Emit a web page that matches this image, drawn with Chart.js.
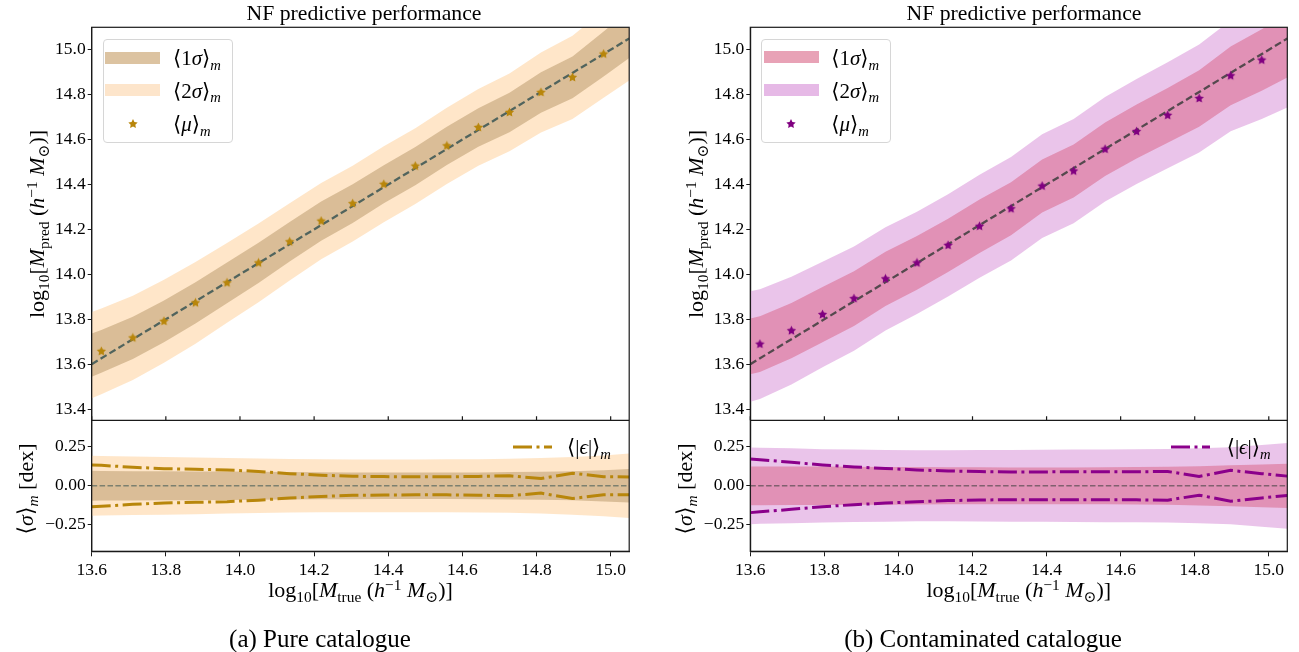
<!DOCTYPE html>
<html>
<head>
<meta charset="utf-8">
<script src="https://cdn.jsdelivr.net/npm/chart.js@4.4.1/dist/chart.umd.min.js"></script>
<style>
  body { margin: 0; width: 1299px; height: 652px; overflow: hidden; position: relative; background: #fff;
         font-family: 'Liberation Serif', 'DejaVu Serif', serif; color: #000; }
  canvas.panel { position: absolute; top: 0; }
  .t { position: absolute; white-space: nowrap; line-height: 1; transform: translate(-50%, -50%); }
  .rot { transform: translate(-50%, -50%) rotate(-90deg); }
  sub, sup { font-size: 70%; line-height: 0; position: relative; vertical-align: baseline; }
  sub { top: 0.32em; }
  sup { top: -0.45em; }
  .leg { position: absolute; box-sizing: border-box; border: 1px solid #d6d6d6; border-radius: 4px;
         background: rgba(255,255,255,0.8); width: 130px; height: 104px; }
  .patch { position: absolute; width: 55px; height: 12px; }
  .lt { position: absolute; font-size: 21px; line-height: 1; transform: translateY(-50%); white-space: nowrap; }
</style>
</head>
<body>
<canvas id="chartA" class="panel" style="left:0px" width="645" height="600"></canvas>
<canvas id="chartB" class="panel" style="left:650px" width="649" height="600"></canvas>

<!-- titles -->
<div class="t" style="left:364px; top:14px; font-size:21.7px">NF predictive performance</div>
<div class="t" style="left:1024px; top:14px; font-size:21.7px">NF predictive performance</div>

<!-- axis labels -->
<div class="t" style="left:360.5px; top:590px; font-size:22px">log<sub>10</sub>[<i>M</i><sub>true</sub> (<i>h</i><sup>−1</sup> <i>M</i><sub>⊙</sub>)]</div>
<div class="t" style="left:1018.8px; top:590px; font-size:22px">log<sub>10</sub>[<i>M</i><sub>true</sub> (<i>h</i><sup>−1</sup> <i>M</i><sub>⊙</sub>)]</div>
<div class="t rot" style="left:37px; top:224px; font-size:22px">log<sub>10</sub>[<i>M</i><sub>pred</sub> (<i>h</i><sup>−1</sup> <i>M</i><sub>⊙</sub>)]</div>
<div class="t rot" style="left:696px; top:224px; font-size:22px">log<sub>10</sub>[<i>M</i><sub>pred</sub> (<i>h</i><sup>−1</sup> <i>M</i><sub>⊙</sub>)]</div>
<div class="t rot" style="left:26px; top:489px; font-size:22px">⟨<i>σ</i>⟩<sub><i>m</i></sub> [dex]</div>
<div class="t rot" style="left:685px; top:489px; font-size:22px">⟨<i>σ</i>⟩<sub><i>m</i></sub> [dex]</div>

<!-- captions -->
<div class="t" style="left:320px; top:638px; font-size:25px">(a) Pure catalogue</div>
<div class="t" style="left:983px; top:638px; font-size:25px">(b) Contaminated catalogue</div>

<!-- legends, upper panels -->
<div class="leg" style="left:102.7px; top:39px"></div>
<div class="patch" style="left:105px; top:51.7px; background:#dcc3a1"></div>
<div class="patch" style="left:105px; top:84px; background:#fde5cb"></div>
<canvas id="legStarA" style="position:absolute; left:127.7px; top:119.3px" width="10" height="10"></canvas>
<div class="lt" style="left:173px; top:58px">⟨1<i>σ</i>⟩<sub><i>m</i></sub></div>
<div class="lt" style="left:173px; top:90.5px">⟨2<i>σ</i>⟩<sub><i>m</i></sub></div>
<div class="lt" style="left:173px; top:124px">⟨<i>μ</i>⟩<sub><i>m</i></sub></div>

<div class="leg" style="left:761.3px; top:38.7px"></div>
<div class="patch" style="left:764px; top:51.3px; background:#e8a2b6"></div>
<div class="patch" style="left:764px; top:84px; background:#e6b9e6"></div>
<canvas id="legStarB" style="position:absolute; left:786.3px; top:119.3px" width="10" height="10"></canvas>
<div class="lt" style="left:831.3px; top:58px">⟨1<i>σ</i>⟩<sub><i>m</i></sub></div>
<div class="lt" style="left:831.3px; top:90.5px">⟨2<i>σ</i>⟩<sub><i>m</i></sub></div>
<div class="lt" style="left:831.3px; top:124px">⟨<i>μ</i>⟩<sub><i>m</i></sub></div>

<!-- legends, residual panels -->
<svg style="position:absolute; left:512.7px; top:442px" width="40" height="10"><line x1="0" y1="5" x2="39" y2="5" stroke="#b8860b" stroke-width="3" stroke-dasharray="19 4.5 3 4.5"/></svg>
<div class="lt" style="left:567px; top:447px">⟨|<i>ϵ</i>|⟩<sub><i>m</i></sub></div>
<svg style="position:absolute; left:1171px; top:442px" width="40" height="10"><line x1="0" y1="5" x2="39" y2="5" stroke="#8b008b" stroke-width="3" stroke-dasharray="19 4.5 3 4.5"/></svg>
<div class="lt" style="left:1226.7px; top:447px">⟨|<i>ϵ</i>|⟩<sub><i>m</i></sub></div>

<script>
// mass bins (first and last entries sit on the plot edges)
const massGrid = [13.600, 13.626, 13.711, 13.795, 13.880, 13.965, 14.050, 14.134, 14.219, 14.304,
                  14.388, 14.473, 14.558, 14.643, 14.727, 14.812, 14.897, 14.981, 15.050];

// (a) pure catalogue
const muPure   = [13.640, 13.657, 13.717, 13.791, 13.873, 13.962, 14.051, 14.145, 14.237, 14.315,
                  14.401, 14.482, 14.572, 14.654, 14.721, 14.810, 14.877, 14.981, 15.070];
const sig1Pure = [0.096, 0.095, 0.094, 0.093, 0.092, 0.091, 0.090, 0.088, 0.087, 0.086,
                  0.085, 0.085, 0.085, 0.086, 0.088, 0.090, 0.093, 0.100, 0.107];
const sig2Pure = [0.192, 0.191, 0.188, 0.185, 0.182, 0.178, 0.175, 0.172, 0.170, 0.169,
                  0.169, 0.169, 0.170, 0.171, 0.173, 0.178, 0.185, 0.195, 0.207];
const epsPure  = [0.134, 0.131, 0.119, 0.110, 0.106, 0.102, 0.092, 0.078, 0.068, 0.061,
                  0.059, 0.058, 0.058, 0.060, 0.064, 0.047, 0.081, 0.058, 0.057];

// (b) contaminated catalogue
const muCont   = [13.679, 13.689, 13.749, 13.821, 13.892, 13.980, 14.051, 14.129, 14.214, 14.292,
                  14.393, 14.460, 14.557, 14.636, 14.708, 14.783, 14.884, 14.954, 15.018];
const sig1Cont = [0.124, 0.124, 0.123, 0.123, 0.122, 0.121, 0.120, 0.119, 0.119, 0.118,
                  0.118, 0.118, 0.119, 0.120, 0.122, 0.126, 0.131, 0.137, 0.142];
const sig2Cont = [0.246, 0.244, 0.240, 0.235, 0.232, 0.230, 0.228, 0.228, 0.229, 0.230,
                  0.231, 0.232, 0.233, 0.234, 0.236, 0.240, 0.247, 0.262, 0.275];
const epsCont  = [0.172, 0.167, 0.151, 0.134, 0.121, 0.111, 0.102, 0.095, 0.091, 0.089,
                  0.089, 0.090, 0.090, 0.090, 0.092, 0.060, 0.099, 0.078, 0.062];

// axis limits
const xLimits = [13.6, 15.05];
const yMainLimits = [13.35, 15.1];
const yResLimits = [-0.42, 0.42];

const FONT = { family: "'Liberation Serif', 'DejaVu Serif', serif", size: 17.5 };

function starImage(color, r) {
  const c = document.createElement('canvas');
  const s = Math.ceil(r * 2) + 1;
  c.width = c.height = s;
  drawStar(c.getContext('2d'), s / 2, s / 2, r, color);
  return c;
}
function drawStar(g, cx, cy, r, color) {
  g.fillStyle = color;
  g.beginPath();
  for (let i = 0; i < 10; i++) {
    const rad = i % 2 ? r * 0.5 : r;
    const a = -Math.PI / 2 + i * Math.PI / 5;
    g.lineTo(cx + rad * Math.cos(a), cy + rad * Math.sin(a));
  }
  g.closePath();
  g.fill();
}

const pts = (xs, ys) => xs.map((x, i) => ({ x, y: ys[i] }));
const shift = (base, d, sign) => base.map((v, i) => v + sign * d[i]);
const zeros = massGrid.map(() => 0);

// cadre complet + petits ticks vers l'intérieur au-dessus de la séparation
const framePlugin = {
  id: 'frame',
  afterDatasetsDraw(chart) {
    const { ctx, chartArea: a, scales } = chart;
    const sep = scales.yMain.bottom;
    ctx.save();
    ctx.strokeStyle = '#1a1a1a';
    ctx.lineWidth = 1.2;
    ctx.strokeRect(a.left, a.top, a.right - a.left, a.bottom - a.top);
    ctx.beginPath();
    ctx.moveTo(a.left, sep); ctx.lineTo(a.right, sep);
    scales.x.ticks.forEach(t => {
      const px = scales.x.getPixelForValue(t.value);
      ctx.moveTo(px, sep); ctx.lineTo(px, sep - 4);
    });
    ctx.stroke();
    ctx.restore();
  }
};

function makePanel(id, axisWidth, rightPad, mu, s1, s2, eps, c) {
  const band = (lo, hi, color, axis, order) => ([
    { data: pts(massGrid, hi), yAxisID: axis, fill: '+1', backgroundColor: color, borderWidth: 0, pointRadius: 0, order },
    { data: pts(massGrid, lo), yAxisID: axis, fill: false, borderWidth: 0, pointRadius: 0, order }
  ]);
  const datasets = [
    // upper panel
    { data: pts(massGrid.slice(1, -1), mu.slice(1, -1)), yAxisID: 'yMain', showLine: false,
      pointStyle: starImage(c.star, 4.9), order: 0 },
    { data: pts(xLimits, xLimits), yAxisID: 'yMain', borderColor: c.diag, borderWidth: 2.3,
      borderDash: [7, 3.4], pointRadius: 0, order: 1 },
    ...band(shift(mu, s1, -1), shift(mu, s1, 1), c.band1, 'yMain', 2),
    ...band(shift(mu, s2, -1), shift(mu, s2, 1), c.band2, 'yMain', 3),
    // residual panel
    { data: pts(massGrid, eps), yAxisID: 'yRes', borderColor: c.eps, borderWidth: 3,
      borderDash: [19, 4.5, 3, 4.5], pointRadius: 0, order: 0 },
    { data: pts(massGrid, eps.map(v => -v)), yAxisID: 'yRes', borderColor: c.eps, borderWidth: 3,
      borderDash: [19, 4.5, 3, 4.5], pointRadius: 0, order: 0 },
    { data: pts(xLimits, [0, 0]), yAxisID: 'yRes', borderColor: c.zero, borderWidth: 1.5,
      borderDash: [5.5, 2.4], pointRadius: 0, order: 1 },
    ...band(shift(zeros, s1, -1), shift(zeros, s1, 1), c.band1, 'yRes', 2),
    ...band(shift(zeros, s2, -1), shift(zeros, s2, 1), c.band2, 'yRes', 3)
  ];

  const tickGrid = { drawOnChartArea: false, drawTicks: true, tickLength: 4, tickColor: '#1a1a1a', tickWidth: 1 };
  const border = { display: true, color: '#1a1a1a', width: 1.2 };
  const fixWidth = s => { s.width = axisWidth; };

  return new Chart(document.getElementById(id), {
    type: 'line',
    data: { datasets },
    options: {
      responsive: false,
      animation: false,
      events: [],
      layout: { padding: { left: 0, right: rightPad, top: 27.3, bottom: 0 } },
      elements: { line: { tension: 0 } },
      plugins: { legend: { display: false }, tooltip: { enabled: false } },
      scales: {
        x: {
          type: 'linear', min: xLimits[0], max: xLimits[1],
          ticks: { stepSize: 0.2, includeBounds: false, padding: 4, color: '#000', font: FONT,
                   maxRotation: 0, autoSkip: false, callback: v => v.toFixed(1) },
          grid: { ...tickGrid, tickLength: 5 }, border,
          afterFit: s => { s.height = 600 - 551.3; }
        },
        yRes: {
          type: 'linear', position: 'left', stack: 'panel', stackWeight: 1,
          min: yResLimits[0], max: yResLimits[1],
          ticks: { stepSize: 0.25, includeBounds: false, padding: 2, color: '#000', font: FONT,
                   callback: v => (v < 0 ? '−' : '') + Math.abs(v).toFixed(2) },
          grid: tickGrid, border, afterFit: fixWidth
        },
        yMain: {
          type: 'linear', position: 'left', stack: 'panel', stackWeight: 3,
          min: yMainLimits[0], max: yMainLimits[1],
          ticks: { stepSize: 0.2, includeBounds: false, padding: 2, color: '#000', font: FONT,
                   callback: v => v.toFixed(1) },
          grid: tickGrid, border, afterFit: fixWidth
        }
      }
    },
    plugins: [framePlugin]
  });
}

makePanel('chartA', 91.7, 645 - 629.2, muPure, sig1Pure, sig2Pure, epsPure, {
  star: '#b8860b', diag: 'rgba(47,79,79,0.8)', zero: 'rgba(47,79,79,0.55)', eps: '#b8860b',
  band1: 'rgba(210,180,140,0.82)', band2: 'rgba(255,228,196,0.92)'
});
makePanel('chartB', 100.3, 649 - 637.3, muCont, sig1Cont, sig2Cont, epsCont, {
  star: '#800080', diag: 'rgba(60,60,60,0.85)', zero: 'rgba(64,64,64,0.6)', eps: '#8b008b',
  band1: 'rgba(219,112,147,0.6)', band2: 'rgba(221,160,221,0.62)'
});

drawStar(document.getElementById('legStarA').getContext('2d'), 5, 5, 4.9, '#b8860b');
drawStar(document.getElementById('legStarB').getContext('2d'), 5, 5, 4.9, '#800080');
</script>
</body>
</html>
